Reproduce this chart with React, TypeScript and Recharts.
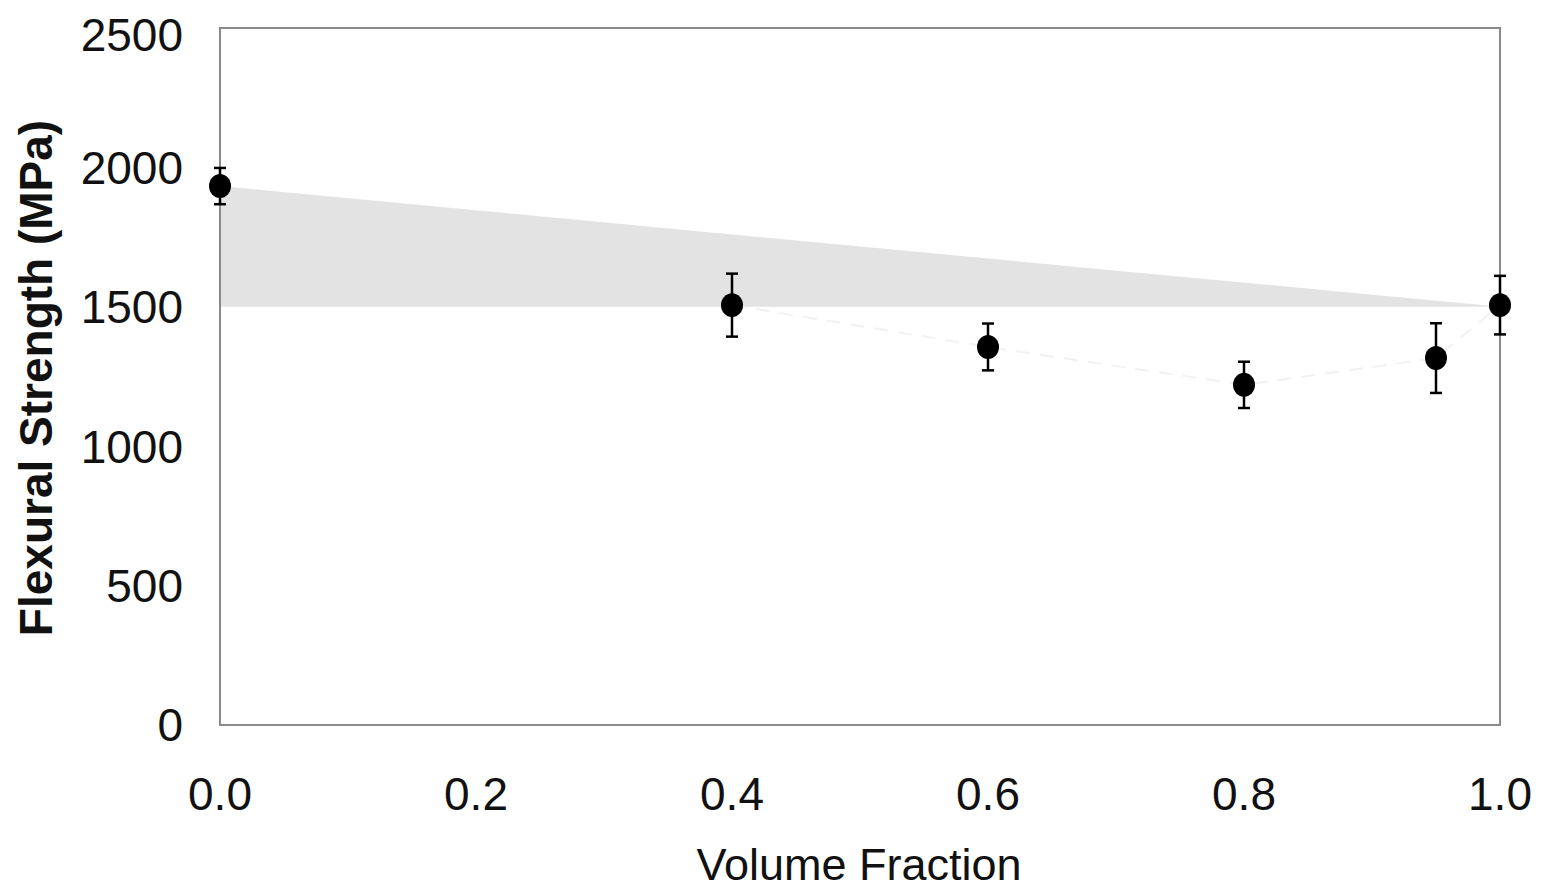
import React from "react";
import {
  ComposedChart,
  Scatter,
  Area,
  Line,
  XAxis,
  YAxis,
  ErrorBar,
  ReferenceArea,
} from "recharts";

const volumeFractions = [0.0, 0.4, 0.6, 0.8, 0.95, 1.0];
const strengthMeans = [1933, 1506, 1356, 1220, 1316, 1506];
const strengthErrors = [65, 113, 84, 83, 125, 105];

const boundX = [0.0, 1.0];
const boundLower = [1500, 1500];
const boundUpper = [1933, 1500];

const xTicks = [0, 0.2, 0.4, 0.6, 0.8, 1.0];
const yTicks = [0, 500, 1000, 1500, 2000, 2500];

const points = volumeFractions.map((x, i) => ({
  x,
  y: strengthMeans[i],
  err: strengthErrors[i],
}));
const band = boundX.map((x, i) => ({ x, band: [boundLower[i], boundUpper[i]] }));

const FONT = "'Liberation Sans', Arial, sans-serif";

export default function App() {
  return (
    <div style={{ width: 1535, height: 884, background: "#fff" }}>
      <ComposedChart
        width={1535}
        height={884}
        margin={{ top: 20, right: 43, left: 0, bottom: 0 }}
      >
        <XAxis
          type="number"
          dataKey="x"
          domain={[0, 1]}
          ticks={xTicks}
          tickFormatter={(v: number) => v.toFixed(1)}
          height={167}
          axisLine={false}
          tickLine={false}
          tickSize={0}
          tickMargin={52}
          tick={{ fill: "#111", fontSize: 46, fontFamily: FONT }}
          label={{
            content: () => (
              <text
                x={851}
                y={872}
                textAnchor="middle"
                fontSize={45}
                fontFamily={FONT}
                fill="#111"
              >
                Volume Fraction
              </text>
            ),
          }}
        />
        <YAxis
          type="number"
          domain={[0, 2500]}
          ticks={yTicks}
          width={212}
          axisLine={false}
          tickLine={false}
          tickSize={0}
          tickMargin={37}
          tick={{ fill: "#111", fontSize: 46, fontFamily: FONT }}
          label={{
            content: () => (
              <text
                x={0}
                y={0}
                transform="translate(44 370) rotate(-90)"
                textAnchor="middle"
                fontSize={46}
                fontWeight="bold"
                fontFamily={FONT}
                fill="#111"
              >
                Flexural Strength (MPa)
              </text>
            ),
          }}
        />
        <Area
          data={band}
          dataKey="band"
          type="linear"
          stroke="none"
          fill="#e3e3e3"
          fillOpacity={1}
          isAnimationActive={false}
        />
        <Line
          data={points.slice(1)}
          dataKey="y"
          type="linear"
          stroke="#f2f2f2"
          strokeWidth={2}
          strokeDasharray="14 10"
          dot={false}
          isAnimationActive={false}
        />
        <ReferenceArea
          x1={0}
          x2={1}
          y1={0}
          y2={2500}
          fill="none"
          stroke="#8a8a8a"
          strokeWidth={2}
          ifOverflow="visible"
        />
        <Scatter
          data={points}
          dataKey="y"
          fill="#000"
          shape={(p: any) => (
            <ellipse cx={p.cx} cy={p.cy} rx={11} ry={12} fill="#000" />
          )}
          isAnimationActive={false}
        >
          <ErrorBar
            dataKey="err"
            direction="y"
            width={6}
            stroke="#000"
            strokeWidth={2.5}
            isAnimationActive={false}
          />
        </Scatter>
      </ComposedChart>
    </div>
  );
}
